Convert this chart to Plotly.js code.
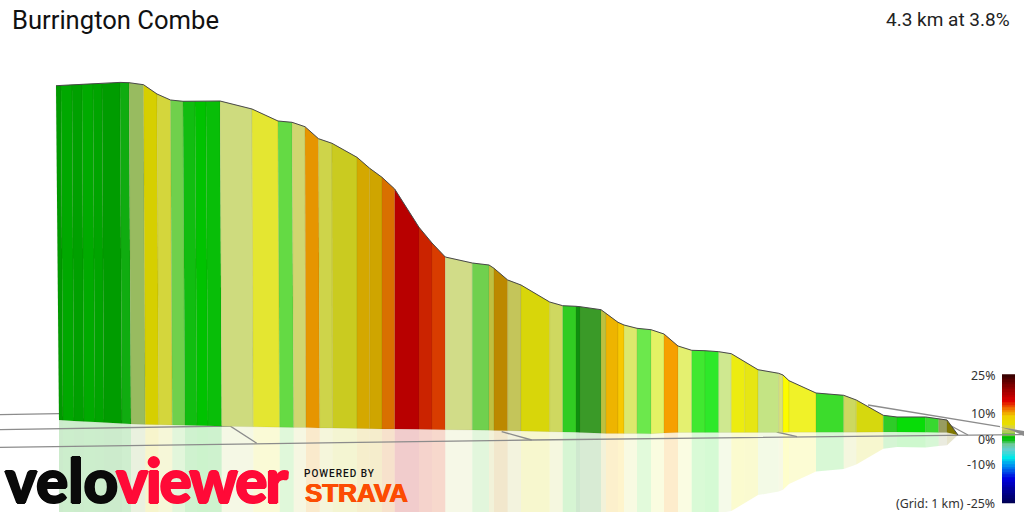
<!DOCTYPE html>
<html><head><meta charset="utf-8">
<script src="https://cdn.plot.ly/plotly-3.0.1.min.js"></script>
<style>html,body{margin:0;padding:0;background:#fff}#c{width:1024px;height:512px}</style>
</head><body><div id="c"></div>
<script>
// Profile section edges along the drawing plane
const topX = [56,61,72,82,93,102,120,129,143.5,157,170.5,183,195,206,220,252,278,292,305,318.5,332,357,369.7,382,394.7,419,432,445.3,472.3,489,494,507.7,521,549.7,562.7,576,580,601,606,618,624,637,651,664,678,691.7,705,718.7,731.3,744.7,758,778.7,783,789,816,843.7,856.3,883.3,897,925.7,938.7,947,958];
const topY = [85.7,85.4,84.8,84.3,83.8,83.4,82.4,82.7,84.7,94,100,101.3,101.3,101.3,101,109,121,122.3,126.7,138.7,143.3,157.3,168.3,177.3,189,227.3,243,257,263,265,268.3,280,285,302,305.7,306.3,306.7,309.7,313.3,322.3,325,328.3,329.7,334,346,350.3,350.7,351.7,353.7,361.7,369.7,373.3,375,380.7,393,395.3,400,415.3,417,417,418.7,420,435];
const baseX = [59,63,74,84,95,104,122,131,145.3,158.7,172.3,185,197,208,221.7,253.3,279.7,293.7,306,319.7,332.5,357,369.7,382,394.7,419,432,445.3,472.3,489,494,507.7,521,549.7,562.7,576,580,601,606,618,624,637,651,664,678,691.7,705,718.7,731.3,744.7,758,778.7,783,789,816,843.7,856.3,883.3,897,925.7,938.7,947,958];
const baseY = [420,420.3,420.9,421.4,422,422.5,423.5,424,424.4,424.7,425,425.3,425.6,425.8,426.2,426.8,427.2,427.4,427.6,427.9,428.1,428.5,428.7,428.9,429,429.3,429.5,429.7,430,430.3,430.4,430.7,431,431.7,432,432.3,432.5,433.3,433.4,433.5,433.6,433.6,433.7,433,432.5,432.4,432.4,432.4,432.4,432.4,432.4,432.4,432.4,432.3,432.3,432.2,432.2,432,432,432.2,432.4,432.6,435];
const segColors = ['#009a00','#00a800','#00a000','#00aa00','#00a400','#009c00','#10ac10','#98bb60','#d6cf00','#d4d63c','#70d04c','#10bd10','#00c200','#08be08','#cedb7e','#e4e631','#64da44','#d0d670','#e69500','#ced44a','#cacb20','#d4a800','#cfa500','#d97000','#b80000','#cb2300','#d83c00','#d1dc88','#70d04e','#c0c040','#bc8900','#c4c55a','#d8d60a','#cfd860','#30cc22','#0f8e0f','#3a9a28','#bcc040','#eeb400','#f8c800','#dce86c','#6ce84c','#e4f264','#f6a000','#e4f070','#40e830','#2ee82a','#cfe890','#ecec10','#e6e614','#c4e484','#d8e07c','#fcfc00','#f0f228','#3cdc2c','#ccd860','#d6d80e','#2ecc28','#08dc08','#38d830','#989c60','#807800'];
const reflectionAlpha = 0.2;

// Ground grid lines (1 km)
const gridLines = [
  {x:[0,59],y:[414.7,413.7]},
  {x:[0,230,256.7],y:[429.7,426,443.3]},
  {x:[0,256.7,340,531.7,680,798,958,1024],y:[447.3,443.3,442.7,440,438.3,436.7,435,434.5]},
  {x:[501.7,531.7],y:[431.7,440]},
  {x:[776.7,797],y:[432,436.7]},
  {x:[868,1000],y:[405,426.7]},
  {x:[940,968],y:[420,435]}
];
const wedgeX = [1000,1024,1024,1013];
const wedgeY = [427,431,436,431];

// Gradient legend
const legendX = [1002,1015];
const legendPct = [25,24,23,22,21,20,19,18,17,16,15,14,13,12,11,10,9,8,7,6,5,4,3,2,1,0,-1,-2,-3,-4,-5,-6,-7,-8,-9,-10,-11,-12,-13,-14,-15,-16,-17,-18,-19,-20,-21,-22,-23,-24,-25];
const legendY = [375.5,378,380.5,383,385.7,388.3,391,393.5,396,398.5,401,403.7,406.3,408.8,411.3,414,416.5,419,421.6,424.2,426.8,429.4,432,434.5,437,439.6,442.2,444.8,447.4,450,452.6,455.2,457.8,460.4,463,465.6,468.2,470.8,473.4,476,478.6,481.2,483.8,486.4,489,491.6,494.2,496.8,499.4,502,503];
const legendStops = [[0,'#000050'],[0.1,'#000090'],[0.2,'#0000e0'],[0.3,'#0090f0'],[0.36,'#00e8e8'],[0.42,'#60d0d0'],[0.47,'#70c890'],[0.49,'#10c020'],[0.52,'#00c000'],[0.55,'#a0c850'],[0.58,'#d0c870'],[0.62,'#e8e000'],[0.68,'#f0d000'],[0.74,'#f07000'],[0.8,'#e00000'],[0.9,'#900000'],[1,'#3a0000']];
const legendTicks = ['25%','10%','0%','-10%','(Grid: 1 km) -25%'];
const legendTickY = [375,413,439,464,503];

function rgba(h,a){const n=parseInt(h.slice(1),16);return `rgba(${n>>16},${(n>>8)&255},${n&255},${a})`;}
const traces = [];
// reflections
segColors.forEach((c,i)=>{
  const x0=baseX[i],x1=baseX[i+1],b0=baseY[i],b1=baseY[i+1];
  traces.push({x:[x0,x1,x1,x0,x0],y:[b0,b1,2*b1-topY[i+1],2*b0-topY[i],b0],mode:'lines',fill:'toself',fillcolor:rgba(c,reflectionAlpha),line:{width:0},hoverinfo:'skip'});
});
// grid
gridLines.forEach(g=>traces.push({x:g.x,y:g.y,mode:'lines',line:{color:'#8c8c8c',width:1.3},hoverinfo:'skip'}));
traces.push({x:wedgeX,y:wedgeY,mode:'lines',fill:'toself',fillcolor:'#8c8c8c',line:{width:0},hoverinfo:'skip'});
// terrain
segColors.forEach((c,i)=>{
  traces.push({x:[topX[i],topX[i+1],baseX[i+1],baseX[i],topX[i]],y:[topY[i],topY[i+1],baseY[i+1],baseY[i],topY[i]],mode:'lines',fill:'toself',fillcolor:c,line:{width:0.6,color:'rgba(60,60,0,0.12)'},hoverinfo:'skip'});
});
// ridge outline
traces.push({x:topX,y:topY,mode:'lines',line:{color:'#484848',width:1},hoverinfo:'skip'});
// legend ramp
traces.push({type:'heatmap',x:legendX,y:legendY,z:legendPct.map(p=>[p]),zmin:-25,zmax:25,colorscale:legendStops,showscale:false,hoverinfo:'skip',xgap:0,ygap:0});

const ann=(t,x,y,size,color,anchor,family,weight,shadow)=>({text:t,x:x,y:y,xref:'x',yref:'y',showarrow:false,xanchor:anchor,yanchor:'middle',font:{size:size,color:color,family:family,weight:weight||400,shadow:shadow||'none'},borderpad:0});
const heavy=c=>`1px 0 0 ${c},-1px 0 0 ${c},0 1px 0 ${c},0 -1px 0 ${c}`;
const annotations=[
  ann('Burrington Combe',11,20,25.6,'#111','left','Roboto'),
  ann('4.3 km at 3.8%',1011,19,19,'#222','right','Roboto'),
  ann('velo',61,480,60,'#0a0a0a','center','Lato',900,heavy('#0a0a0a')),
  ann('viewer',201,480,60,'#ff0a37','center','Lato',900,heavy('#ff0a37')),
  ann('POWERED BY',340,473,10,'#111','center','Roboto',500),
  ann('STRAVA',356.5,493,26,'#fc4c02','center','Liberation Sans',700,`0.6px 0 0 #fc4c02,-0.6px 0 0 #fc4c02`)
];
legendTicks.forEach((t,i)=>annotations.push(ann(t,996,legendTickY[i],12.4,'#333','right','Noto Sans')));

// letter spacing for the logotype texts, which the annotation font has no key for
const letterSpacing = {'viewer':'-2px','POWERED BY':'1px'};
Plotly.newPlot('c',traces,{
  width:1024,height:512,margin:{l:0,r:0,t:0,b:0,pad:0},paper_bgcolor:'#fff',plot_bgcolor:'#fff',showlegend:false,
  xaxis:{range:[0,1024],visible:false,fixedrange:true},
  yaxis:{range:[512,0],visible:false,fixedrange:true},
  annotations:annotations
},{displayModeBar:false,staticPlot:true}).then(()=>{
  document.querySelectorAll('#c .annotation-text').forEach(t=>{
    const s=letterSpacing[t.textContent];
    if(s) t.style.letterSpacing=s;
  });
});
</script></body></html>
